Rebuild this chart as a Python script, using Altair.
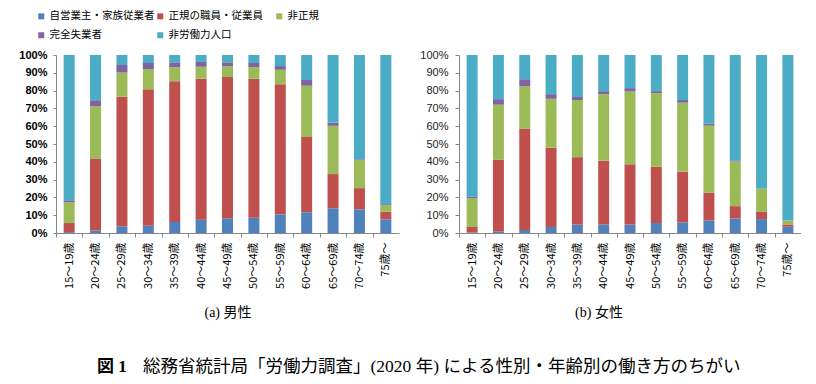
import altair as alt
import pandas as pd

ages = ["15～19歳", "20～24歳", "25～29歳", "30～34歳", "35～39歳", "40～44歳",
        "45～49歳", "50～54歳", "55～59歳", "60～64歳", "65～69歳", "70～74歳", "75歳～"]
categories = ["自営業主・家族従業者", "正規の職員・従業員", "非正規", "完全失業者", "非労働力人口"]
colors = ["#4F81BD", "#C0504D", "#9BBB59", "#8064A2", "#4BACC6"]

# 男性 (%)
self_m = [0.5, 1.5, 3.8, 4.1, 6.2, 7.5, 8.3, 8.6, 10.5, 11.7, 13.9, 13.3, 7.7]
reg_m = [5.1, 40.4, 72.7, 76.7, 79.1, 79.2, 79.3, 78.1, 73.1, 42.2, 19.2, 11.9, 4.3]
nonreg_m = [11.7, 29.3, 13.7, 11.3, 7.9, 6.7, 6.0, 6.5, 8.1, 28.8, 27.1, 15.8, 3.6]
unemp_m = [1.1, 3.4, 4.2, 3.4, 2.7, 2.7, 2.3, 2.3, 2.1, 3.2, 1.8, 0.4, 0.6]
nilf_m = [81.6, 25.4, 5.6, 4.5, 4.1, 3.9, 4.1, 4.5, 6.2, 14.1, 38.0, 58.6, 83.8]

# 女性 (%)
self_f = [0.3, 0.9, 1.7, 3.4, 4.7, 4.8, 4.7, 5.6, 6.0, 7.1, 8.2, 7.8, 3.5]
reg_f = [3.1, 40.4, 56.8, 44.5, 37.9, 35.8, 33.9, 31.6, 28.5, 15.6, 6.9, 4.3, 1.3]
nonreg_f = [16.2, 30.8, 24.0, 27.5, 32.1, 37.4, 40.9, 41.4, 38.7, 37.6, 25.1, 12.7, 2.1]
unemp_f = [0.9, 3.1, 3.9, 2.6, 1.7, 1.7, 1.9, 1.1, 1.5, 1.2, 0.6, 0.2, 0.2]
nilf_f = [79.5, 24.8, 13.6, 22.0, 23.6, 20.3, 18.6, 20.3, 25.3, 38.5, 59.2, 75.0, 92.9]

sub_a = "(a) 男性"
sub_b = "(b) 女性"
cap_head = "図 1"
cap_body = "総務省統計局「労働力調査」(2020 年) による性別・年齢別の働き方のちがい"

JP = "Noto Sans CJK JP"
SERIF = "Liberation Serif, Noto Sans CJK JP"
GRAY = "#868686"


def to_long(series):
    rows = []
    for ci, (cat, vals) in enumerate(zip(categories, series)):
        for a, v in zip(ages, vals):
            rows.append({"age": a, "cat": cat, "idx": ci, "v": v})
    return pd.DataFrame(rows)


color = alt.Color(
    "cat:N",
    scale=alt.Scale(domain=categories, range=colors),
    legend=alt.Legend(
        title=None, orient="none", legendX=-20, legendY=-44, columns=3,
        direction="horizontal",
        gridAlign="all", columnPadding=0, rowPadding=8, symbolType="square",
        symbolSize=36, symbolStrokeWidth=0, labelFont=JP, labelFontSize=10.5,
        labelColor="#000000", labelOffset=3, padding=0, labelLimit=300,
    ),
)


def panel(df, width, height, bold, tick, lpad, lcolor):
    step = width / (13 - 0.583 + 2 * 0.29)
    return alt.Chart(df).mark_bar().encode(
        x=alt.X(
            "age:N", sort=ages,
            scale=alt.Scale(paddingInner=0.583, paddingOuter=0.29),
            axis=alt.Axis(
                title=None, labelAngle=270, labelFont=JP, labelFontSize=11,
                labelColor="#000000", domainColor=GRAY, tickColor=GRAY,
                tickSize=4, labelPadding=5, tickOffset=-step / 2,
                labelOffset=step / 2, grid=False,
            ),
        ),
        y=alt.Y(
            "v:Q", stack="normalize", scale=alt.Scale(domain=[0, 1]),
            axis=alt.Axis(
                title=None, format=".0%", values=[i / 10 for i in range(11)],
                grid=False, tickSize=tick, labelPadding=lpad,
                labelFont="Liberation Sans", labelFontSize=11,
                labelFontWeight="bold" if bold else "normal",
                labelColor=lcolor, domainColor=GRAY, tickColor=GRAY,
            ),
        ),
        color=color,
        order=alt.Order("idx:Q", sort="ascending"),
    ).properties(width=width, height=height)


def text_layer(txt, x, y, size, weight="normal", align="center", font=SERIF):
    return alt.Chart(pd.DataFrame({"t": [txt]})).mark_text(
        font=font, fontSize=size, fontWeight=weight, align=align,
        baseline="middle", color="#000000",
    ).encode(text="t:N", x=alt.value(x), y=alt.value(y))


left_bars = panel(to_long([self_m, reg_m, nonreg_m, unemp_m, nilf_m]), 343, 178, True, 3, 6, "#000000")
right_bars = panel(to_long([self_f, reg_f, nonreg_f, unemp_f, nilf_f]), 342, 178, False, 4, 7, "#222222")

left = alt.layer(
    left_bars,
    text_layer(sub_a, 172, 258, 14),
    text_layer(cap_head, 41, 312, 17, weight="bold", align="left"),
    text_layer(cap_body, 87, 312, 17.5, align="left"),
)
right = alt.layer(
    right_bars,
    text_layer(sub_b, 140, 258, 14),
)

chart = alt.hconcat(left, right, spacing=60, bounds="flush").properties(
    padding={"left": 10, "top": 3, "right": 0, "bottom": 0}
).configure_view(strokeOpacity=0)

chart.save("out.html", embed_options={"renderer": "svg", "actions": False})
